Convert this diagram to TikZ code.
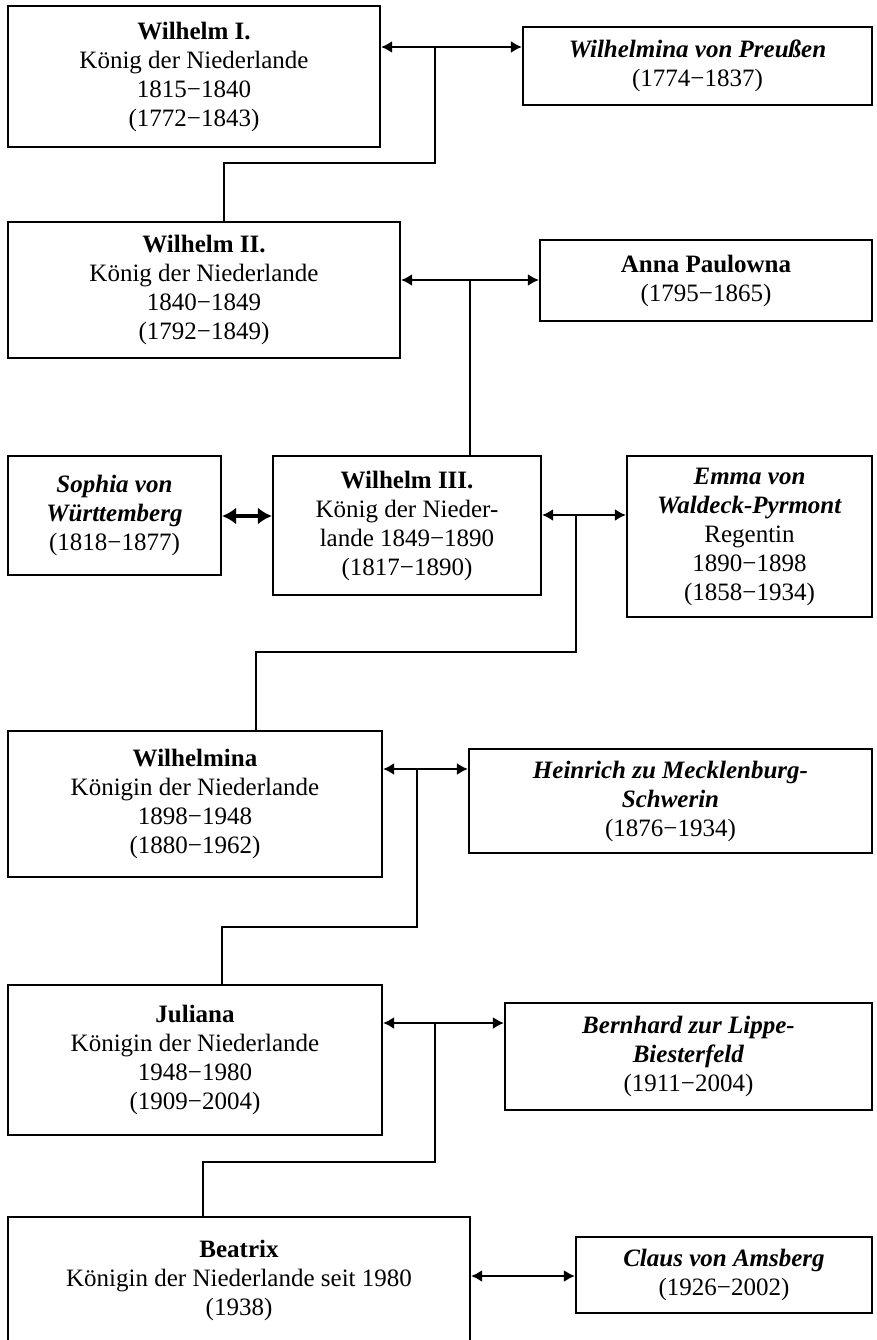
\documentclass[tikz,border=0pt]{standalone}
\usepackage{fontspec}
\setmainfont{Liberation Serif}
\usetikzlibrary{arrows.meta}
\newcommand\boxfont{\fontsize{25}{29}\selectfont}
\tikzset{
  box/.style={draw, line width=2.2pt, inner sep=0pt, align=center, font=\boxfont},
  conn/.style={line width=2pt},
  marr/.style={line width=2pt, {Latex[length=11pt,width=12pt]}-{Latex[length=11pt,width=12pt]}},
  sarr/.style={line width=3.2pt, {Latex[length=14pt,width=17pt]}-{Latex[length=14pt,width=17pt]}},
}
\begin{document}
\begin{tikzpicture}[x=1pt,y=-1pt]
\useasboundingbox (0,0) rectangle (877,1340);
% boxes
\node[box, minimum width=372pt, minimum height=141pt] (w1) at (194,76.5)
  {\textbf{Wilhelm I.}\\König der Niederlande\\1815−1840\\(1772−1843)};
\node[box, minimum width=349pt, minimum height=78pt] (wp) at (697.5,66)
  {\textbf{\textit{Wilhelmina von Preußen}}\\(1774−1837)};
\node[box, minimum width=392pt, minimum height=136pt] (w2) at (204,290)
  {\textbf{Wilhelm II.}\\König der Niederlande\\1840−1849\\(1792−1849)};
\node[box, minimum width=332pt, minimum height=81pt] (ap) at (706,280.5)
  {\textbf{Anna Paulowna}\\(1795−1865)};
\node[box, minimum width=213pt, minimum height=119pt] (so) at (114.5,515.5)
  {\textbf{\textit{Sophia von}}\\\textbf{\textit{Württemberg}}\\(1818−1877)};
\node[box, minimum width=268pt, minimum height=139pt] (w3) at (407,525.5)
  {\textbf{Wilhelm III.}\\König der Nieder-\\lande 1849−1890\\(1817−1890)};
\node[box, minimum width=245pt, minimum height=161pt] (em) at (749.5,536.5)
  {\textbf{\textit{Emma von}}\\\textbf{\textit{Waldeck-Pyrmont}}\\Regentin\\1890−1898\\(1858−1934)};
\node[box, minimum width=374pt, minimum height=146pt] (wa) at (195,804)
  {\textbf{Wilhelmina}\\Königin der Niederlande\\1898−1948\\(1880−1962)};
\node[box, minimum width=403pt, minimum height=104pt] (he) at (670.5,801)
  {\textbf{\textit{Heinrich zu Mecklenburg-}}\\\textbf{\textit{Schwerin}}\\(1876−1934)};
\node[box, minimum width=374pt, minimum height=150pt] (ju) at (195,1060)
  {\textbf{Juliana}\\Königin der Niederlande\\1948−1980\\(1909−2004)};
\node[box, minimum width=367pt, minimum height=107pt] (bh) at (688.5,1056.5)
  {\textbf{\textit{Bernhard zur Lippe-}}\\\textbf{\textit{Biesterfeld}}\\(1911−2004)};
\node[box, minimum width=462pt, minimum height=126pt] (bx) at (239,1280)
  {\textbf{Beatrix}\\Königin der Niederlande seit 1980\\(1938)};
\node[box, minimum width=296pt, minimum height=76pt] (cl) at (724,1275)
  {\textbf{\textit{Claus von Amsberg}}\\(1926−2002)};
% junction coordinates
\coordinate (m1) at (435,47);
\coordinate (k1) at (224,163);
\coordinate (m2) at (470,280);
\coordinate (m3) at (576,515);
\coordinate (k3) at (256,652);
\coordinate (m4) at (417,769);
\coordinate (k4) at (222,927);
\coordinate (m5) at (435,1023);
\coordinate (k5) at (203,1162);
\coordinate (m6) at (246,516);
\coordinate (m7) at (524,1276);
% marriages
\draw[marr] (m1 -| w1.east) -- (m1 -| wp.west);
\draw[marr] (m2 -| w2.east) -- (m2 -| ap.west);
\draw[sarr] (m6 -| so.east) -- (m6 -| w3.west);
\draw[marr] (m3 -| w3.east) -- (m3 -| em.west);
\draw[marr] (m4 -| wa.east) -- (m4 -| he.west);
\draw[marr] (m5 -| ju.east) -- (m5 -| bh.west);
\draw[marr] (m7 -| bx.east) -- (m7 -| cl.west);
% descent
\draw[conn] (m1) |- (k1) -- (k1 |- w2.north);
\draw[conn] (m2) -- (m2 |- w3.north);
\draw[conn] (m3) |- (k3) -- (k3 |- wa.north);
\draw[conn] (m4) |- (k4) -- (k4 |- ju.north);
\draw[conn] (m5) |- (k5) -- (k5 |- bx.north);
\end{tikzpicture}
\end{document}
